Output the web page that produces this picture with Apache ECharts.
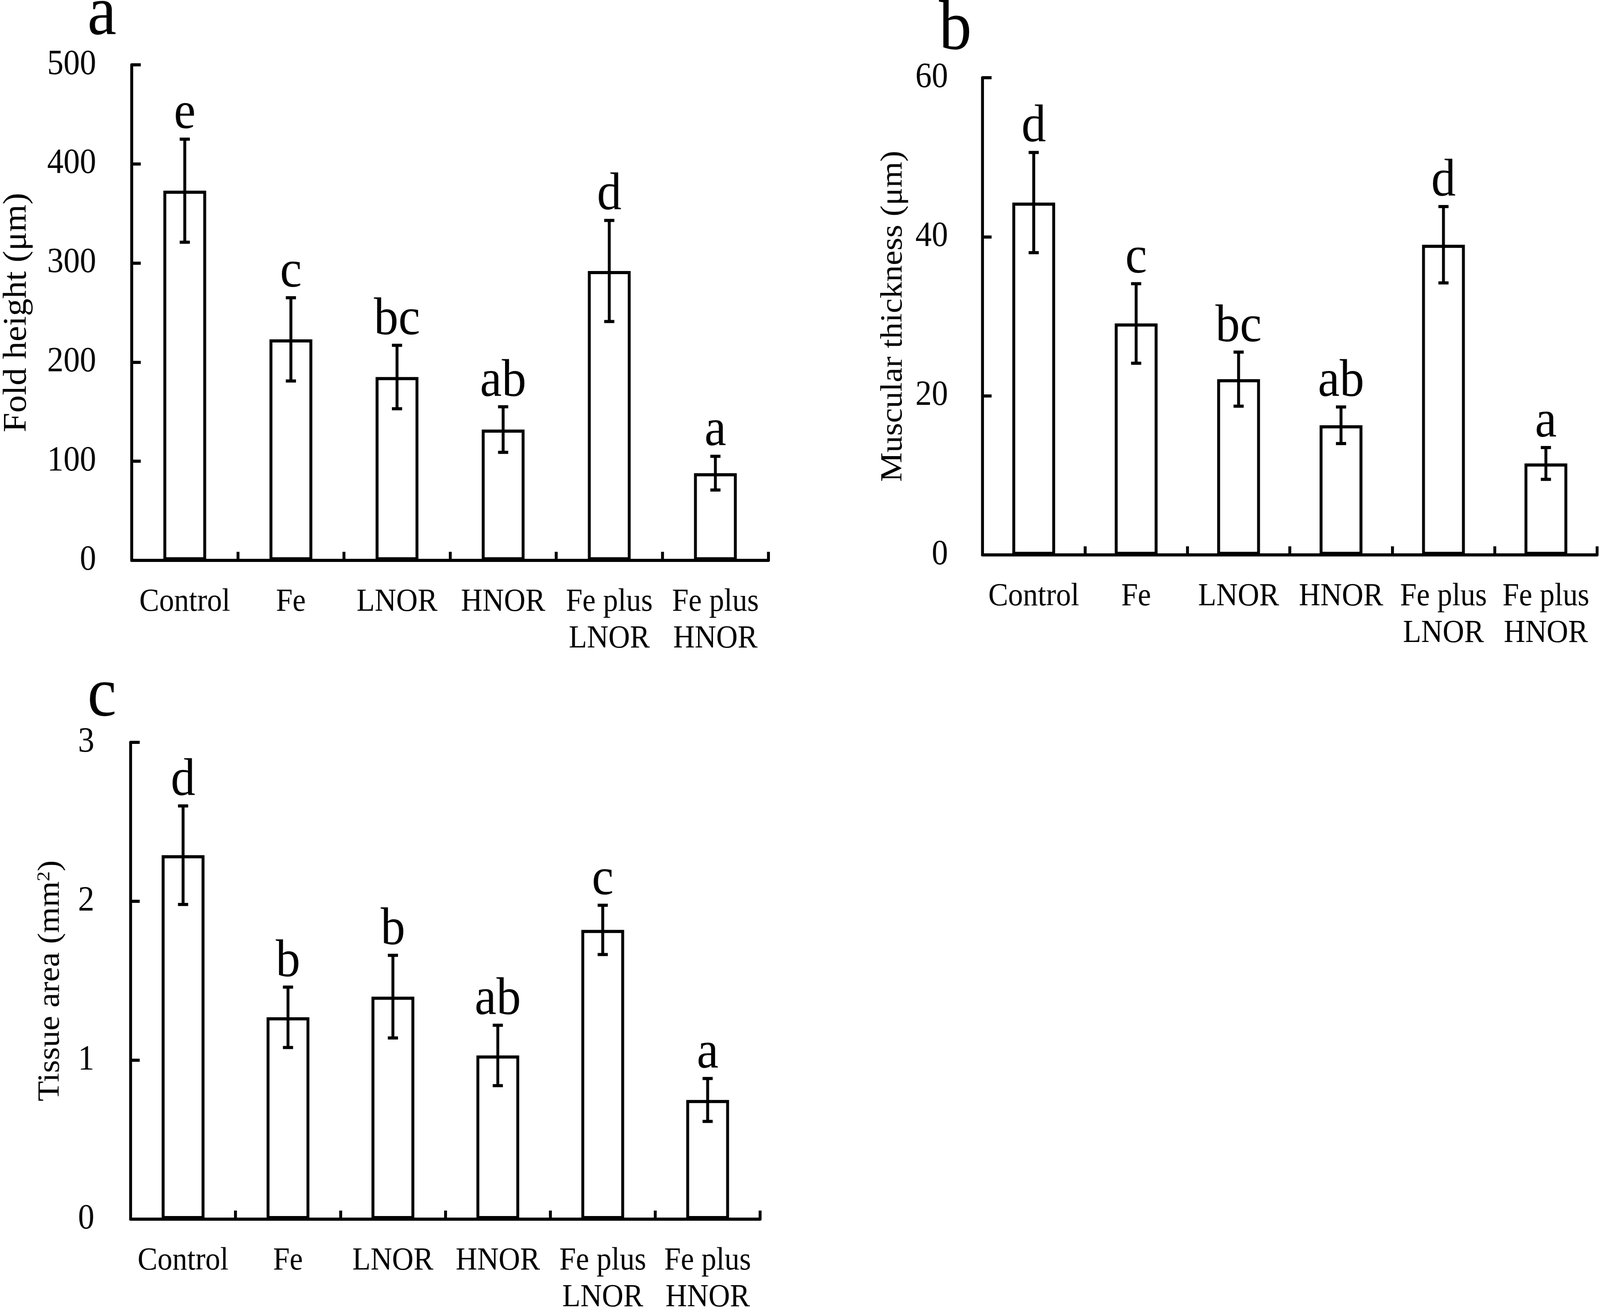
<!DOCTYPE html>
<html lang="en">
<head>
<meta charset="UTF-8">
<title>Fold height, muscular thickness and tissue area</title>
<script src="https://cdn.jsdelivr.net/npm/echarts@6/dist/echarts.min.js"></script>
</head>
<body style="margin:0;background:#fff;overflow:hidden">
<div id="chart" style="width:4410px;height:3370px;transform-origin:0 0"></div>
<script>
    // groups on the x axis
    let groups = ['Control', 'Fe', 'LNOR', 'HNOR', 'Fe plus\nLNOR', 'Fe plus\nHNOR'];

    // panel a - fold height (um)
    let foldMean = [373, 223, 185, 132, 292, 88];
    let foldErr = [52, 42, 32, 23, 51, 17];
    let foldLetters = ['e', 'c', 'bc', 'ab', 'd', 'a'];

    // panel b - muscular thickness (um)
    let muscMean = [44.3, 29.1, 22.1, 16.3, 39.0, 11.5];
    let muscErr = [6.3, 5.0, 3.4, 2.3, 4.8, 2.0];
    let muscLetters = ['d', 'c', 'bc', 'ab', 'd', 'a'];

    // panel c - tissue area (mm2)
    let areaMean = [2.29, 1.27, 1.40, 1.03, 1.82, 0.75];
    let areaErr = [0.31, 0.19, 0.26, 0.19, 0.155, 0.135];
    let areaLetters = ['d', 'b', 'b', 'ab', 'c', 'a'];

    let FONT = 'Liberation Serif';

    // the sheet is laid out at 4410 x 3370, fit it into whatever the viewport is
    let dom = document.getElementById('chart');
    dom.style.transform = 'scale(' + (window.innerWidth / 4410) + ',' + (window.innerHeight / 3370) + ')';

    function yAxisOf(idx, max, step, title, gap, fs, margin) {
        return {
            type: 'value', gridIndex: idx, min: 0, max: max, interval: step,
            name: title, nameLocation: 'middle', nameGap: gap,
            nameTextStyle: {fontFamily: FONT, fontSize: fs, color: '#000',
                rich: {
                    n: {fontFamily: FONT, fontSize: fs, color: '#000'},
                    sup: {fontFamily: FONT, fontSize: fs * 0.6, color: '#000', verticalAlign: 'top', lineHeight: fs}
                }},
            axisLine: {show: true, lineStyle: {color: '#000', width: 8}},
            axisTick: {show: true, inside: true, length: 25, lineStyle: {color: '#000', width: 8}},
            axisLabel: {fontFamily: FONT, fontSize: 90, color: '#000', margin: margin},
            splitLine: {show: false}
        };
    }

    function xAxisOf(idx) {
        return {
            type: 'category', gridIndex: idx, data: groups, boundaryGap: true,
            axisLine: {lineStyle: {color: '#000', width: 8}},
            axisTick: {show: true, inside: true, length: 22, alignWithLabel: false,
                lineStyle: {color: '#000', width: 8}},
            axisLabel: {fontFamily: FONT, fontSize: 82, color: '#000', margin: 60,
                lineHeight: 94, interval: 0}
        };
    }

    function barsOf(idx, means) {
        return {
            type: 'bar', xAxisIndex: idx, yAxisIndex: idx, data: means, barWidth: 118,
            itemStyle: {color: '#fff', borderColor: '#000', borderWidth: 8},
            silent: true
        };
    }

    function errorsOf(idx, means, errs, letters) {
        let d = means.map(function (m, i) { return [i, m, errs[i]]; });
        return {
            type: 'custom', xAxisIndex: idx, yAxisIndex: idx, data: d, z: 5,
            renderItem: function (params, api) {
                let i = api.value(0), m = api.value(1), e = api.value(2);
                let hi = api.coord([i, m + e]);
                let lo = api.coord([i, m - e]);
                let cap = 14;
                let st = {stroke: '#000', lineWidth: 8};
                return {
                    type: 'group',
                    children: [
                        {type: 'line', shape: {x1: hi[0], y1: hi[1], x2: lo[0], y2: lo[1]}, style: st},
                        {type: 'line', shape: {x1: hi[0] - cap, y1: hi[1], x2: hi[0] + cap, y2: hi[1]}, style: st},
                        {type: 'line', shape: {x1: lo[0] - cap, y1: lo[1], x2: lo[0] + cap, y2: lo[1]}, style: st},
                        {type: 'text', x: hi[0], y: hi[1] + 4,
                            style: {text: letters[params.dataIndex], fontFamily: FONT, fontSize: 135, fill: '#000',
                                align: 'center', verticalAlign: 'bottom'}}
                    ]
                };
            }
        };
    }

    function panelLetter(txt, x, y) {
        return {type: 'text', x: x, y: y,
            style: {text: txt, fontFamily: FONT, fontSize: 180, fill: '#000', align: 'center', verticalAlign: 'middle'}};
    }

    let chart = echarts.init(dom, null, {renderer: 'canvas', width: 4410, height: 3370});
    let option = {
        backgroundColor: '#fff',
        animation: false,
        grid: [
            {left: 363, right: 2292, top: 166, bottom: 1935},
            {left: 2708, right: 8, top: 199, bottom: 1949},
            {left: 360, right: 2315, top: 1901, bottom: 219}
        ],
        xAxis: [xAxisOf(0), xAxisOf(1), xAxisOf(2)],
        yAxis: [
            yAxisOf(0, 500, 100, 'Fold height (μm)', 271, 90, 98),
            yAxisOf(1, 60, 20, 'Muscular thickness (μm)', 203, 85, 95),
            yAxisOf(2, 3, 1, '{n|Tissue area (mm}{sup|2}{n|)}', 178, 85, 100)
        ],
        graphic: [
            panelLetter('a', 281, 40),
            panelLetter('b', 2633, 78),
            panelLetter('c', 281, 1785)
        ],
        series: [
            barsOf(0, foldMean), errorsOf(0, foldMean, foldErr, foldLetters),
            barsOf(1, muscMean), errorsOf(1, muscMean, muscErr, muscLetters),
            barsOf(2, areaMean), errorsOf(2, areaMean, areaErr, areaLetters)
        ]
    };
    chart.setOption(option);
</script>
</body>
</html>
